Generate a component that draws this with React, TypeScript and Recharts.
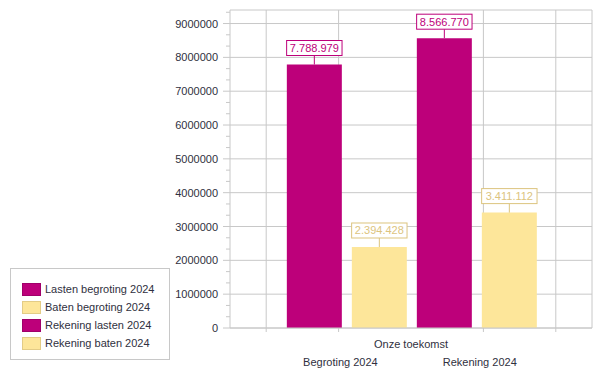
import React from "react";
import {
  Bar,
  BarChart,
  CartesianGrid,
  LabelList,
  XAxis,
  YAxis,
} from "recharts";

const CATEGORIES = ["Onze toekomst"];
const LASTEN_BEGROTING = [7788979];
const BATEN_BEGROTING = [2394428];
const REKENING_LASTEN = [8566770];
const REKENING_BATEN = [3411112];

const SERIES_NAMES = [
  "Lasten begroting 2024",
  "Baten begroting 2024",
  "Rekening lasten 2024",
  "Rekening baten 2024",
];
const GROUP_LABELS = ["Begroting 2024", "Rekening 2024"];

const Y_MAJOR_TICKS = [
  0, 1000000, 2000000, 3000000, 4000000, 5000000, 6000000, 7000000, 8000000,
  9000000,
];
const Y_MAX = 9400000;

// vertical grid lines as fractions of the plot width
const X_GRID_FRACTIONS = [0.1, 0.3, 0.7, 0.9];
const GROUP_LABEL_FRACTIONS = [0.305, 0.69];

const LASTEN_COLOR = "#bd007a";
const BATEN_COLOR = "#fde69a";
const BATEN_LABEL_COLOR = "#dcc47e";
const GRID_COLOR = "#c8c8c8";
const TEXT_COLOR = "#2f3040";
const FONT = "'Liberation Sans', Arial, sans-serif";

const SERIES = [
  { key: "lastenBegroting", fill: LASTEN_COLOR, label: LASTEN_COLOR, stroke: "#a0006a" },
  { key: "batenBegroting", fill: BATEN_COLOR, label: BATEN_LABEL_COLOR, stroke: "#e3cc86" },
  { key: "rekeningLasten", fill: LASTEN_COLOR, label: LASTEN_COLOR, stroke: "#a0006a" },
  { key: "rekeningBaten", fill: BATEN_COLOR, label: BATEN_LABEL_COLOR, stroke: "#e3cc86" },
];

const data = CATEGORIES.map((name, i) => ({
  name,
  lastenBegroting: LASTEN_BEGROTING[i],
  batenBegroting: BATEN_BEGROTING[i],
  rekeningLasten: REKENING_LASTEN[i],
  rekeningBaten: REKENING_BATEN[i],
}));

// minor ticks every third of a million, majors get a label
const yTicks: number[] = [];
for (let v = 0; v <= Y_MAX; v += 1000000 / 3) yTicks.push(Math.round(v));

const formatDots = (v: number) =>
  String(Math.round(v)).replace(/\B(?=(\d{3})+(?!\d))/g, ".");

function YTick(props: any) {
  const { x, y, payload } = props;
  const axisX = x + 12;
  const major = payload.value % 1000000 === 0;
  return (
    <g>
      <line
        x1={axisX - (major ? 7 : 4)}
        x2={axisX}
        y1={y}
        y2={y}
        stroke={GRID_COLOR}
      />
      {major && (
        <text
          x={x}
          y={y + 4}
          textAnchor="end"
          fontSize={11}
          fontFamily={FONT}
          fill={TEXT_COLOR}
        >
          {payload.value}
        </text>
      )}
    </g>
  );
}

function XTick(props: any) {
  const { x, y, payload, width } = props;
  const left = x - width / 2;
  const axisY = y - 11;
  return (
    <g fontFamily={FONT} fontSize={11} fill={TEXT_COLOR}>
      {X_GRID_FRACTIONS.map((f) => (
        <line
          key={f}
          x1={left + width * f}
          x2={left + width * f}
          y1={axisY}
          y2={axisY + 4}
          stroke={GRID_COLOR}
        />
      ))}
      <text x={x} y={y + 9} textAnchor="middle">
        {payload.value}
      </text>
      {GROUP_LABELS.map((g, i) => (
        <text
          key={g}
          x={left + width * GROUP_LABEL_FRACTIONS[i]}
          y={y + 27}
          textAnchor="middle"
        >
          {g}
        </text>
      ))}
    </g>
  );
}

function makeValueLabel(color: string) {
  return function ValueLabel(props: any) {
    const { x, y, width, value } = props;
    const text = formatDots(Number(value));
    const cx = x + width / 2;
    const boxW = text.length * 5.6 + 5;
    const boxH = 15;
    const boxBottom = y - 9;
    return (
      <g>
        <line x1={cx} x2={cx} y1={boxBottom} y2={y} stroke={color} />
        <rect
          x={cx - boxW / 2}
          y={boxBottom - boxH}
          width={boxW}
          height={boxH}
          fill="#ffffff"
          stroke={color}
        />
        <text
          x={cx}
          y={boxBottom - 3.5}
          textAnchor="middle"
          fontSize={11}
          fontFamily={FONT}
          fill={color}
        >
          {text}
        </text>
      </g>
    );
  };
}

function ChartLegend() {
  return (
    <div
      style={{
        position: "absolute",
        left: 10,
        top: 268,
        width: 160,
        height: 92,
        boxSizing: "border-box",
        border: "1px solid #c8c8c8",
        paddingTop: 11,
        paddingLeft: 11,
        fontFamily: FONT,
        fontSize: 11,
        color: TEXT_COLOR,
      }}
    >
      {SERIES_NAMES.map((name, i) => (
        <div
          key={name}
          style={{ display: "flex", alignItems: "center", height: 18 }}
        >
          <span
            style={{
              width: 19,
              height: 13,
              boxSizing: "border-box",
              background: SERIES[i].fill,
              border: `1px solid ${SERIES[i].stroke}`,
              marginRight: 4,
            }}
          />
          <span>{name}</span>
        </div>
      ))}
    </div>
  );
}

export default function App() {
  return (
    <div
      style={{
        position: "absolute",
        left: 0,
        top: 0,
        width: 602,
        height: 374,
        background: "#fff",
      }}
    >
      <BarChart
        width={602}
        height={374}
        data={data}
        margin={{ top: 10, right: 10, left: 0, bottom: 0 }}
        barCategoryGap="15.7%"
        barGap={10}
      >
        <CartesianGrid
          stroke={GRID_COLOR}
          horizontalValues={[...Y_MAJOR_TICKS, Y_MAX]}
          verticalCoordinatesGenerator={({ offset }: any) => [
            ...X_GRID_FRACTIONS.map((f) => offset.left + offset.width * f),
            offset.left + offset.width,
          ]}
        />
        <XAxis
          dataKey="name"
          height={46}
          axisLine={{ stroke: GRID_COLOR }}
          tickLine={false}
          tickSize={0}
          tickMargin={11}
          tick={<XTick />}
        />
        <YAxis
          width={230}
          domain={[0, Y_MAX]}
          ticks={yTicks}
          interval={0}
          allowDataOverflow
          axisLine={{ stroke: GRID_COLOR }}
          tickLine={false}
          tickSize={4}
          tickMargin={8}
          tick={<YTick />}
        />
        {SERIES.map((s, i) => (
          <Bar
            key={s.key}
            dataKey={s.key}
            name={SERIES_NAMES[i]}
            fill={s.fill}
            isAnimationActive={false}
          >
            <LabelList dataKey={s.key} content={makeValueLabel(s.label)} />
          </Bar>
        ))}
      </BarChart>
      <ChartLegend />
    </div>
  );
}
